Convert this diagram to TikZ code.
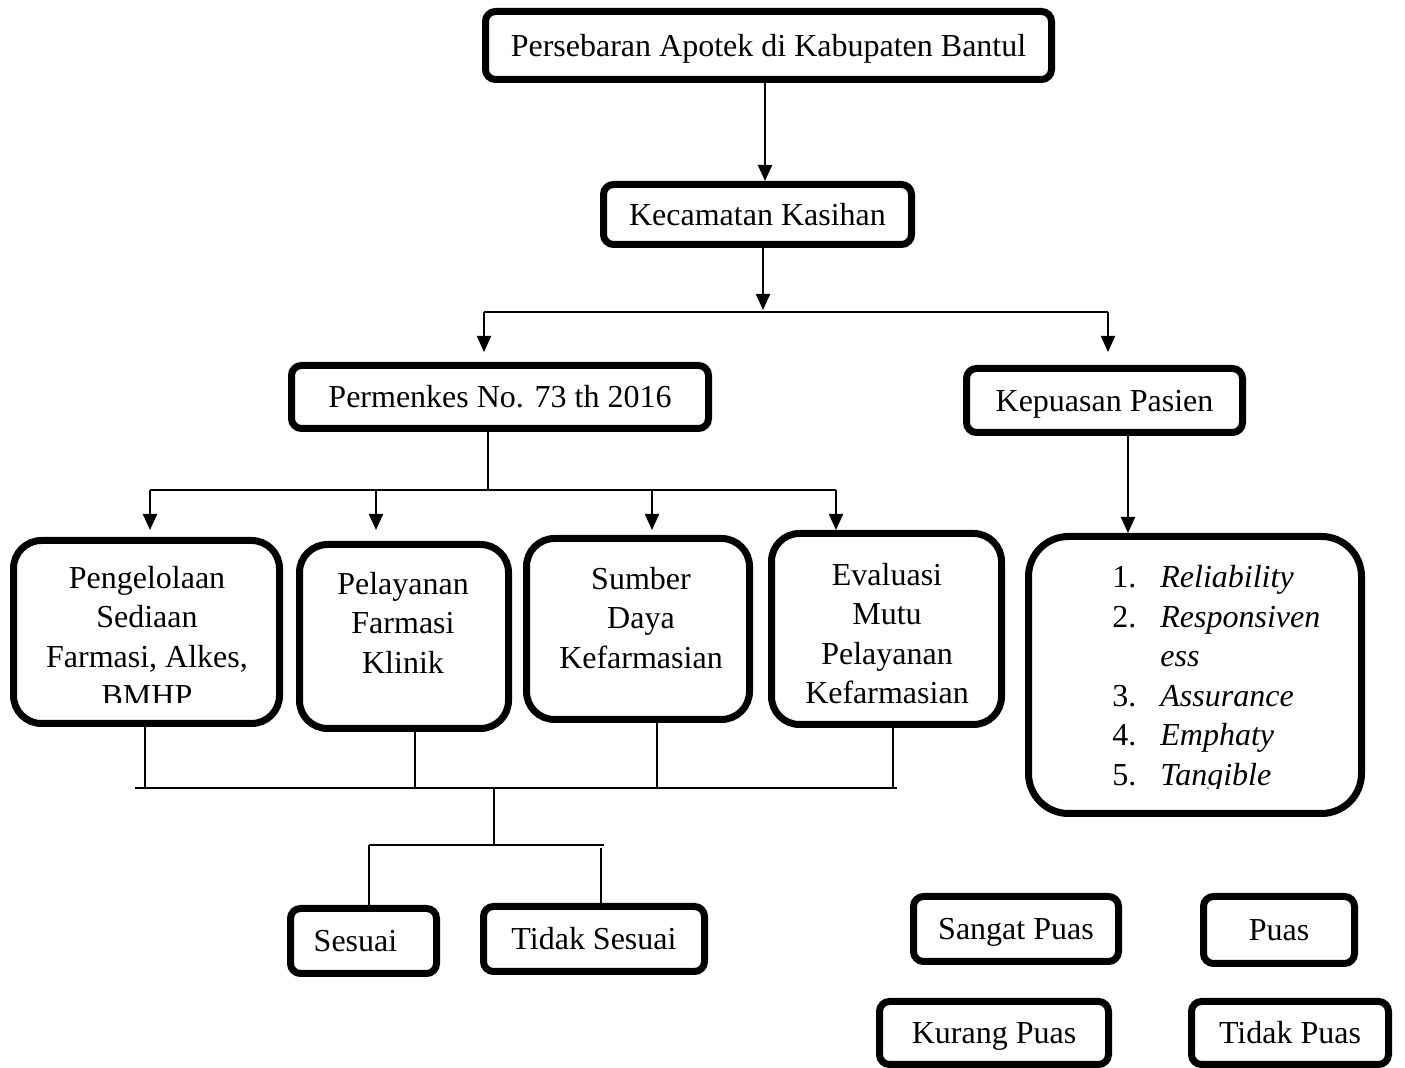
\documentclass[tikz,border=0pt]{standalone}
\usepackage{fontspec}
\setmainfont{Liberation Serif}
\usetikzlibrary{arrows.meta}
\tikzset{box/.style = {draw, line width = 3.5pt, rounded corners = 5pt, inner sep = 0, text height = 12pt, text depth = 1pt},
  bigbox/.style = {box, rounded corners = 14pt},
  txt/.style = {align = center, inner sep = 0},
  arr/.style = {line width = 1.1pt, -{Triangle[width = 7pt, length = 8pt]}},
  wire/.style = {line width = 0.7pt}}

\begin{document}
\begin{tikzpicture}[x = 0.5pt, y = -0.5pt, font = \fontsize{16}{19.75}\selectfont]
      \useasboundingbox (0, 0) rectangle (1405, 1068);

      \node [box, minimum width = 283pt, minimum height = 34pt] at (768.5, 45.5) (top) {Persebaran Apotek di Kabupaten Bantul};
      \node [box, minimum width = 154pt, minimum height = 30pt] at (757.5, 214.5) (kec) {Kecamatan Kasihan};
      \node [box, minimum width = 208.5pt, minimum height = 31.5pt] at (500, 397) (perm) {Permenkes No. 73 th 2016};
      \node [box, minimum width = 138pt, minimum height = 32pt] at (1104.5, 400.5) (kep) {Kepuasan Pasien};

      \node [bigbox, minimum width = 133pt, minimum height = 91.5pt] at (146.5, 632) (b1) {};
      \node [bigbox, minimum width = 104.5pt, minimum height = 92pt] at (404, 636.5) (b2) {};
      \node [bigbox, minimum width = 111.5pt, minimum height = 90.5pt] at (638, 629) (b3) {};
      \node [bigbox, minimum width = 115pt, minimum height = 95.5pt] at (886.5, 629) (b4) {};
      \node [bigbox, rounded corners = 20pt, minimum width = 166.5pt, minimum height = 138.5pt] at (1195, 675) (b5) {};

      \begin{scope}
        \clip (0, 0) rectangle (1405, 703);
        \node [txt] at (147, 636.5) (b1t) {Pengelolaan\\Sediaan\\Farmasi, Alkes,\\BMHP};
      \end{scope}
      \node [txt] at (403, 622.5) (b2t) {Pelayanan\\Farmasi\\Klinik};
      \node [txt] at (641, 618) (b3t) {Sumber\\Daya\\Kefarmasian};
      \node [txt] at (887, 633.5) (b4t) {Evaluasi\\Mutu\\Pelayanan\\Kefarmasian};
      \begin{scope}
        \clip (0, 0) rectangle (1405, 789);
        \node [txt, align = left, anchor = west] at (1112, 679) (b5t) {%
          \makebox[24pt][l]{1.}\textit{Reliability}\\
          \makebox[24pt][l]{2.}\textit{Responsiven}\\
          \makebox[24pt][l]{}\textit{ess}\\
          \makebox[24pt][l]{3.}\textit{Assurance}\\
          \makebox[24pt][l]{4.}\textit{Emphaty}\\
          \makebox[24pt][l]{5.}\textit{Tangible}};
      \end{scope}

      \node [box, minimum width = 73pt, minimum height = 32.5pt] at (363.5, 941) (ses) {\hspace{-8pt}Sesuai};
      \node [box, minimum width = 110.5pt, minimum height = 32.5pt] at (594, 939) (tses) {Tidak Sesuai};
      \node [box, minimum width = 102.5pt, minimum height = 32.5pt] at (1016, 929) (spuas) {Sangat Puas};
      \node [box, minimum width = 75.5pt, minimum height = 33.5pt] at (1279, 930) (puas) {Puas};
      \node [box, minimum width = 114.5pt, minimum height = 31.5pt] at (994, 1033) (kpuas) {Kurang Puas};
      \node [box, minimum width = 98.5pt, minimum height = 31.5pt] at (1290, 1033) (tpuas) {Tidak Puas};

      \coordinate (j1) at (763, 312);
      \coordinate (jl) at (484, 312);
      \coordinate (jr) at (1108, 312);
      \coordinate (j2) at (488, 490);
      \coordinate (s1) at (150, 490);
      \coordinate (s2) at (376, 490);
      \coordinate (s3) at (652, 490);
      \coordinate (s4) at (836, 490);
      \coordinate (m) at (494, 788);
      \coordinate (ml) at (135, 788);
      \coordinate (mr) at (897, 788);
      \coordinate (n) at (494, 845);
      \coordinate (nl) at (369, 845);
      \coordinate (nr) at (604, 845);

      \draw [arr] ([xshift = -1.75pt]top.south) -- ([xshift = -1.75pt]top.south |- kec.north);
      \draw [arr] (kec.south -| j1) -- ([yshift = 1pt]j1);
      \draw [wire] (jl) -- (jr);
      \draw [arr, shorten > = 5pt] (jl) -- (jl |- perm.north);
      \draw [arr, shorten > = 6.5pt] (jr) -- (jr |- kep.north);

      \draw [wire] (perm.south -| j2) -- (j2);
      \draw [wire] (s1) -- (s4);
      \foreach \s in {s1, s2, s3, s4}
        \draw [arr] (\s) -- (\s |- b4.north);
      \draw [arr] ([xshift = 11.75pt]kep.south) -- ([xshift = 11.75pt]kep.south |- b5.north);

      \draw [wire] ([xshift = -0.75pt]b1.south) -- ([xshift = -0.75pt]b1.south |- m);
      \draw [wire] ([xshift = 5.5pt]b2.south) -- ([xshift = 5.5pt]b2.south |- m);
      \draw [wire] ([xshift = 9.5pt]b3.south) -- ([xshift = 9.5pt]b3.south |- m);
      \draw [wire] ([xshift = 3.25pt]b4.south) -- ([xshift = 3.25pt]b4.south |- m);
      \draw [wire] (ml) -- (mr);
      \draw [wire] (m) -- (n);
      \draw [wire] (nl) -- (nr);
      \draw [wire] (nl) -- (nl |- ses.north);
      \draw [wire] ([xshift = 3.5pt, yshift = -1.5pt]tses.north |- n) -- ([xshift = 3.5pt]tses.north);
    \end{tikzpicture}
\end{document}
